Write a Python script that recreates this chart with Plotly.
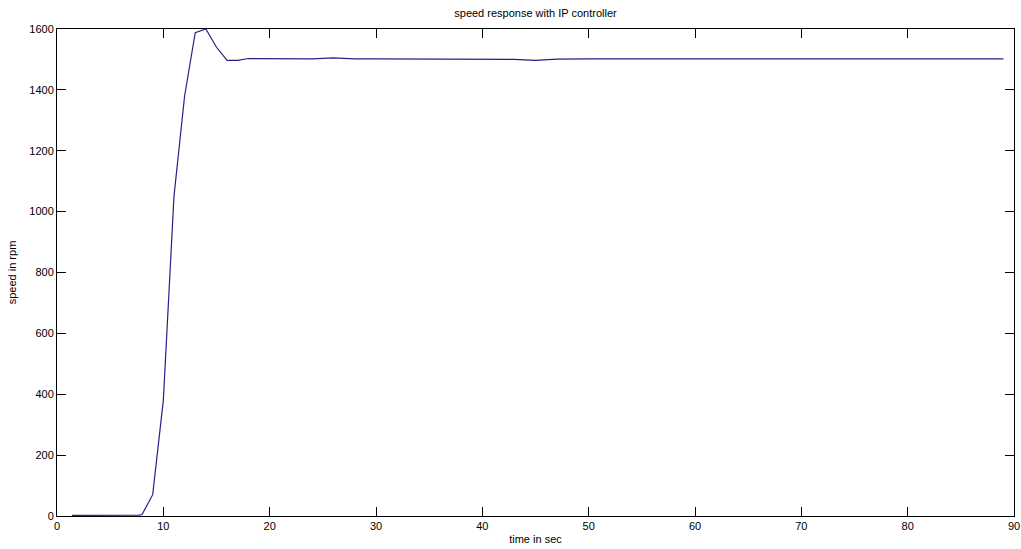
import plotly.graph_objects as go

time_s = [1.4, 2, 3, 4, 5, 6, 7, 7.7, 8, 9, 10, 11, 12, 13, 14, 15, 16, 17, 18, 20, 22, 24, 26, 28, 30,
          35, 40, 43, 45, 47, 50, 55, 60, 65, 70, 75, 80, 85, 89]
speed_rpm = [2, 2, 2, 2, 2, 2, 2, 3, 5, 70, 380, 1050, 1380, 1588, 1600, 1540, 1497, 1497, 1503, 1502, 1502, 1502, 1505, 1502, 1502,
             1502, 1502, 1500, 1497, 1501, 1502, 1502, 1502, 1502, 1502, 1502, 1502, 1502, 1502]

x_ticks = [0, 10, 20, 30, 40, 50, 60, 70, 80, 90]
y_ticks = [0, 200, 400, 600, 800, 1000, 1200, 1400, 1600]

FONT = "Liberation Sans, Arial"

fig = go.Figure()
fig.add_trace(go.Scatter(x=time_s, y=speed_rpm, mode="lines",
                         line=dict(color="#22228a", width=1.2), showlegend=False))

axis_common = dict(showline=True, linecolor="black", linewidth=1, mirror="ticks",
                   ticks="inside", ticklen=9, tickcolor="black", showgrid=False, zeroline=False,
                   automargin=False,
                   tickfont=dict(family=FONT, size=11, color="black"))

fig.update_layout(
    width=1021, height=549,
    margin=dict(l=57, r=7, t=29, b=33, autoexpand=False),
    paper_bgcolor="white", plot_bgcolor="white",
    title=dict(text="speed response with IP controller", x=0.5, xanchor="center",
               xref="paper", y=1 - 13 / 549, yref="container", yanchor="middle", automargin=False,
               font=dict(family=FONT, size=11, color="black")),
    xaxis=dict(range=[0, 90], tickvals=x_ticks,
               title=dict(text="time in sec", standoff=4,
                          font=dict(family=FONT, size=11, color="black")),
               **axis_common),
    yaxis=dict(range=[0, 1600], tickvals=y_ticks,
               title=dict(text="speed in rpm", standoff=10,
                          font=dict(family=FONT, size=11, color="black")),
               **axis_common),
)

fig.write_html("out.html", config={"displayModeBar": False},
               post_script="document.body.style.margin='0';document.body.style.overflow='hidden';")
